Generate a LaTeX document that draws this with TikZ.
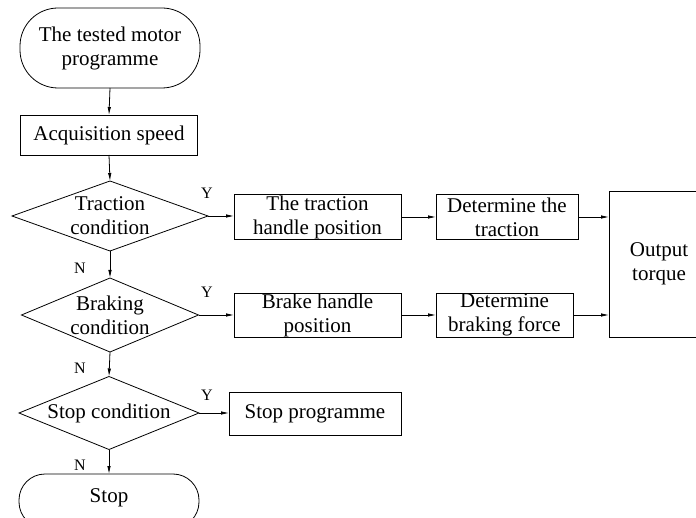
\documentclass[tikz,border=0pt]{standalone}
\usepackage{fontspec}
\setmainfont{Liberation Serif}
\usetikzlibrary{shapes.geometric,arrows.meta}
\begin{document}
\begin{tikzpicture}[x=1pt,y=-1pt,
  every node/.style={outer sep=0pt, inner sep=0pt},
  txt/.style={font=\fontsize{21}{24}\selectfont, align=center},
  lbl/.style={font=\fontsize{16}{18}\selectfont},
  boxx/.style={draw, line width=0.8pt, rectangle},
  dia/.style={draw, line width=0.8pt, diamond},
  term/.style={draw, line width=0.8pt, rectangle},
  arr/.style={line width=0.8pt, -{Latex[length=8pt,width=3.5pt]}}]
\useasboundingbox (0,0) rectangle (696,518);
\clip (0,0) rectangle (696,518);
% nodes
\node[term, rounded corners=38pt, minimum width=180pt, minimum height=80pt] (start) at (110,48) {};
\node[txt] (startt) at (start) {The tested motor\\programme};
\node[boxx, minimum width=177pt, minimum height=40pt] (acq) at (109,135) {};
\node[txt] (acqt) at (acq) {Acquisition speed};
\node[dia, minimum width=196pt, minimum height=70pt] (d1) at (110,216) {};
\node[txt] (d1t) at (110,216) {Traction\\condition};
\node[dia, minimum width=177pt, minimum height=74pt] (d2) at (110,315) {};
\node[txt] (d2t) at (110,315) {Braking\\condition};
\node[dia, minimum width=180pt, minimum height=73pt] (d3) at (109,413) {};
\node[txt] (d3t) at (109,413) {Stop condition};
\node[term, rounded corners=26pt, minimum width=180pt, minimum height=54pt] (stop) at (109,501) {};
\node[txt] (stopt) at (109,498) {Stop};
\node[boxx, minimum width=167pt, minimum height=45pt] (th) at (317.5,217) {};
\node[txt] (tht) at (th) {The traction\\handle position};
\node[boxx, minimum width=142pt, minimum height=45pt] (dt) at (507,217) {};
\node[txt] (dtt) at (dt) {Determine the\\traction};
\node[boxx, minimum width=167pt, minimum height=44pt] (bh) at (317.5,315) {};
\node[txt] (bht) at (bh) {Brake handle\\position};
\node[boxx, minimum width=137pt, minimum height=44pt] (bf) at (504.5,315) {};
\node[txt] (bft) at (bf) {Determine\\braking force};
\node[boxx, minimum width=172pt, minimum height=43pt] (sp) at (315,413.5) {};
\node[txt] (spt) at (sp) {Stop programme};
\node[boxx, minimum width=100pt, minimum height=146pt] (ot) at (659,264) {};
\node[txt] (ott) at (659,264) {Output\\torque};
% connectors
\draw[arr] (start.south) -- (acq.north);
\draw[arr] (acq.south) -- (d1.north);
\draw[arr] (d1.south) -- (d2.north);
\draw[arr] (d2.south) -- (d3.north);
\draw[arr] (d3.south) -- (stop.north);
\draw[arr] (d1.east) -- (th.west |- d1.east);
\draw[arr] (d2.east) -- (bh.west |- d2.east);
\draw[arr] (d3.east) -- (sp.west |- d3.east);
\draw[arr] (th.east) -- (dt.west);
\draw[arr] (bh.east) -- (bf.west);
\draw[arr] (dt.east) -- (ot.west |- dt.east);
\draw[arr] (bf.east) -- (ot.west |- bf.east);
% labels
\node[lbl] (y1) at (207,193) {Y};
\node[lbl] (y2) at (207,292) {Y};
\node[lbl] (y3) at (207,395) {Y};
\node[lbl] (n1) at (80,268) {N};
\node[lbl] (n2) at (80,368) {N};
\node[lbl] (n3) at (80,465) {N};
\end{tikzpicture}
\end{document}
